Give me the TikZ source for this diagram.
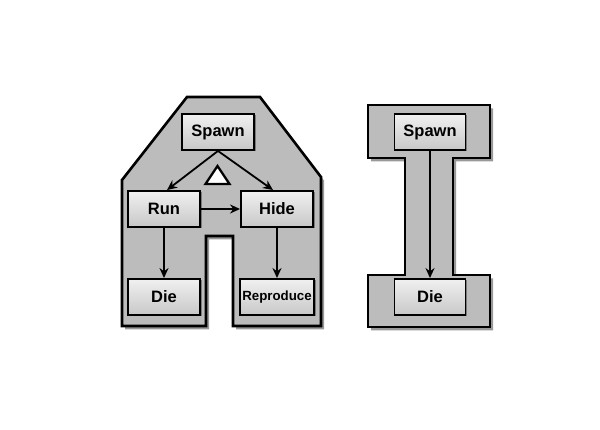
\documentclass[tikz,border=0pt]{standalone}
\usepackage{fontspec}
\setmainfont{Liberation Sans}
\usetikzlibrary{arrows.meta,shadows,calc}
\definecolor{shapegray}{RGB}{188,188,188}
\definecolor{boxtop}{RGB}{240,240,240}
\definecolor{boxbot}{RGB}{200,200,200}
\tikzset{
  bigshape/.style={draw=black, line width=2.6pt, fill=shapegray, line join=miter,
    drop shadow={shadow xshift=3pt, shadow yshift=-3.5pt, opacity=0.4, fill=black}},
  statebox/.style={draw=black, line width=1.9pt, top color=boxtop, bottom color=boxbot,
    minimum width=72pt, minimum height=36pt, inner sep=0pt,
    font=\bfseries\fontsize{16.5}{18}\selectfont,
    drop shadow={shadow xshift=1.5pt, shadow yshift=-1.5pt, opacity=0.35, fill=black}},
  smalltext/.style={font=\bfseries\fontsize{13.3}{15}\selectfont},
  hole/.style={draw=black, line width=2.3pt, fill=white, line join=miter},
  flow/.style={draw=black, line width=1.8pt, -{Stealth[length=10pt,width=9pt]}}
}
\begin{document}
\begin{tikzpicture}[x=1pt,y=-1pt]
\useasboundingbox[fill=white] (0,0) rectangle (600,430);
% A shape
\path[bigshape]
  (187,97) -- (260,97) -- (321,177) -- (321,326) -- (233,326) -- (233,236)
  -- (206,236) -- (206,326) -- (122,326) -- (122,180) -- cycle;
\path[hole] (217.5,166) -- (229.5,184) -- (205.5,184) -- cycle;
% I shape
\path[bigshape]
  (368,105) -- (490,105) -- (490,158) -- (453,158) -- (453,275) -- (490,275)
  -- (490,327) -- (368,327) -- (368,275) -- (405,275) -- (405,158) -- (368,158) -- cycle;
% nodes of A
\node[statebox] (spawnA) at (218,132) {Spawn};
\node[statebox] (run) at (164,209) {Run};
\node[statebox] (hide) at (277,209) {Hide};
\node[statebox] (dieA) at (164,297) {Die};
\node[statebox, minimum width=74pt, smalltext] (repro) at (277,297) {Reproduce};
% nodes of I
\node[statebox, minimum width=71pt] (spawnI) at (430,132) {Spawn};
\node[statebox, minimum width=71pt] (dieI) at (430,297) {Die};
% connectors
\draw[flow] (spawnA.south) -- ($(run.north)+(3,0)$);
\draw[flow] (spawnA.south) -- ($(hide.north)+(-4,0)$);
\draw[flow] (run.east) -- (hide.west);
\draw[flow] (run.south) -- (dieA.north);
\draw[flow] (hide.south) -- (repro.north);
\draw[flow] (spawnI.south) -- (dieI.north);
\end{tikzpicture}
\end{document}
